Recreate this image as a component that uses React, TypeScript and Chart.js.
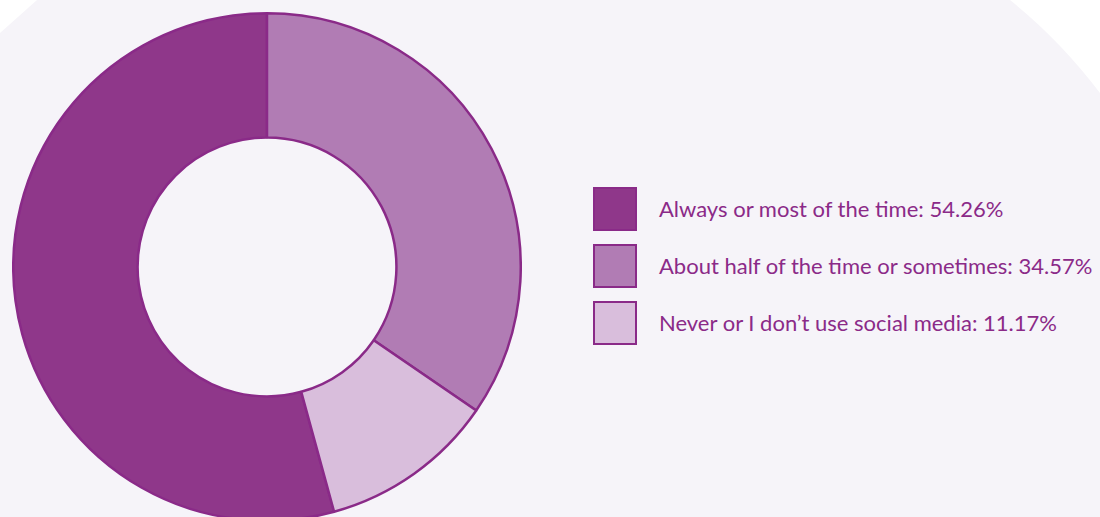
import React, { useEffect, useRef } from "react";
import { Chart, registerables } from "chart.js";

Chart.register(...registerables);

// Share of respondents by how often they do this on social media
const categories = [
  "Always or most of the time",
  "About half of the time or sometimes",
  "Never or I don\u2019t use social media",
];
const shares = [54.26, 34.57, 11.17];
const fills = ["#8f378a", "#b17cb4", "#d9bedc"];
const edge = "#8a2a88";
const textColor = "#8b2a88";

export default function App() {
  const ref = useRef<HTMLCanvasElement | null>(null);

  useEffect(() => {
    document.body.style.margin = "0";
    const canvas = ref.current;
    if (!canvas) return;
    // first slice ends back at 12 o'clock, so the ring starts after the other two
    const rest = shares.slice(1).reduce((a, b) => a + b, 0);
    const chart = new Chart(canvas, {
      type: "doughnut",
      data: {
        labels: categories,
        datasets: [
          {
            data: shares,
            backgroundColor: fills,
            borderColor: edge,
            borderWidth: 2.5,
            hoverOffset: 0,
          },
        ],
      },
      options: {
        animation: false,
        responsive: false,
        maintainAspectRatio: false,
        cutout: "51%",
        rotation: (rest / 100) * 360,
        layout: { padding: 0 },
        plugins: {
          legend: { display: false },
          tooltip: { enabled: false },
        },
      },
    });
    return () => chart.destroy();
  }, []);

  return (
    <div
      style={{
        position: "relative",
        width: 1100,
        height: 517,
        overflow: "hidden",
        background: "#ffffff",
      }}
    >
      <div
        style={{
          position: "absolute",
          inset: 0,
          background: "#f6f4f9",
          clipPath:
            "path('M0 33 L37 0 L1010 0 Q1060 40 1100 93 L1100 517 L0 517 Z')",
        }}
      />
      <canvas
        ref={ref}
        width={510}
        height={510}
        style={{ position: "absolute", left: 12, top: 12, width: 510, height: 510 }}
      />
      <div
        style={{
          position: "absolute",
          left: 593,
          top: 187,
          fontFamily: "Lato, 'Noto Sans', sans-serif",
          fontSize: 22,
          color: textColor,
        }}
      >
        {categories.map((c, i) => (
          <div
            key={c}
            style={{ display: "flex", alignItems: "center", height: 44, marginBottom: 13 }}
          >
            <div
              style={{
                width: 44,
                height: 44,
                boxSizing: "border-box",
                border: `2.5px solid ${edge}`,
                background: fills[i],
                marginRight: 22,
                flexShrink: 0,
              }}
            />
            <span style={{ whiteSpace: "nowrap", lineHeight: "44px" }}>
              {c}: {shares[i].toFixed(2)}%
            </span>
          </div>
        ))}
      </div>
    </div>
  );
}
